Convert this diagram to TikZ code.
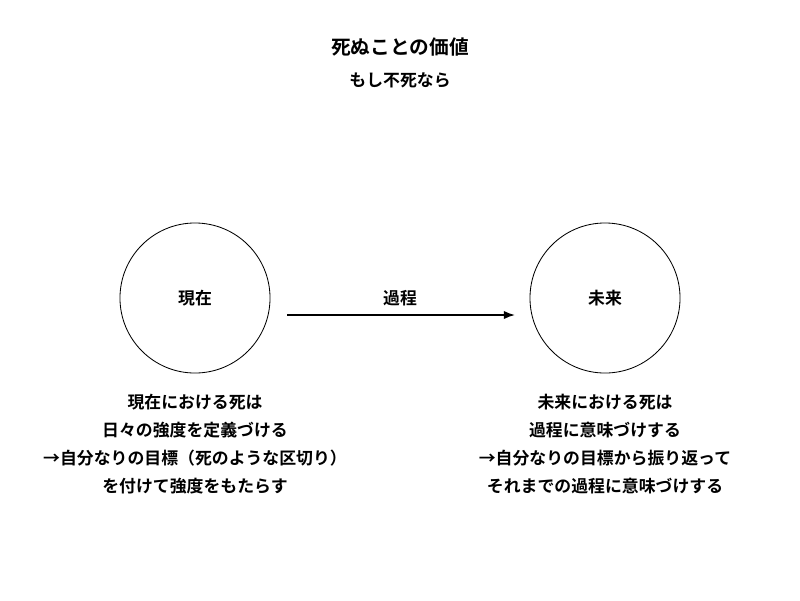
\documentclass[tikz,border=0pt]{standalone}
\usepackage{fontspec}
\setmainfont{Noto Sans CJK JP}[BoldFont={Noto Sans CJK JP Bold}]
\usetikzlibrary{arrows.meta}
\begin{document}
\begin{tikzpicture}[x=0.025cm,y=-0.025cm,
    state/.style={circle,draw,line width=0.6pt,minimum size=3.75cm,font=\fontsize{12}{14}\selectfont\bfseries},
    note/.style={align=center,font=\fontsize{12}{19.9}\selectfont\bfseries}]
  \useasboundingbox (0,0) rectangle (800,600);
  \node[font=\fontsize{14}{16}\selectfont\bfseries] (title) at (400,47) {死ぬことの価値};
  \node[font=\fontsize{12}{14}\selectfont\bfseries] (sub) at (400,80) {もし不死なら};
  \node[state] (now) at (195,298) {現在};
  \node[state] (future) at (605,298) {未来};
  \coordinate (from) at (287,315);
  \coordinate (to) at (515,315);
  \draw[-{Latex[length=8pt]},line width=1.2pt] (from) -- (to);
  \node[font=\fontsize{12}{14}\selectfont\bfseries] (proc) at (400,298) {過程};
  % notes
  \node[note] (nownote) at (195,444) {現在における死は\\日々の強度を定義づける\\→自分なりの目標（死のような区切り）\\を付けて強度をもたらす};
  \node[note] (futnote) at (605,444) {未来における死は\\過程に意味づけする\\→自分なりの目標から振り返って\\それまでの過程に意味づけする};
\end{tikzpicture}
\end{document}
